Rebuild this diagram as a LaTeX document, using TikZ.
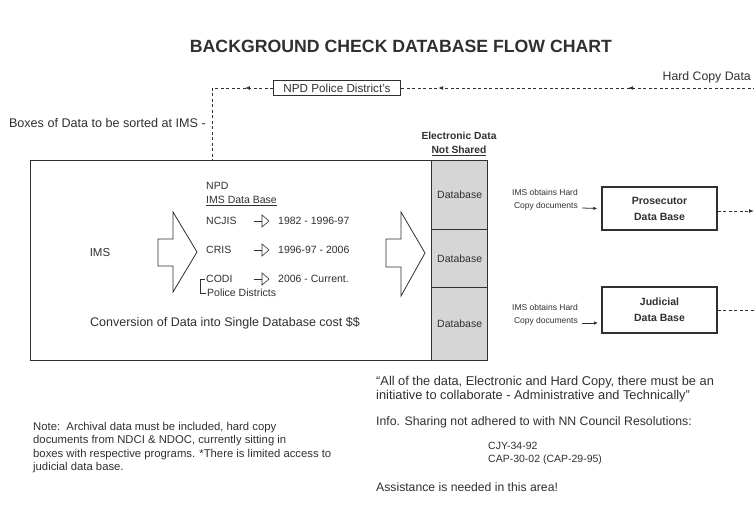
\documentclass[tikz,border=0pt]{standalone}
\usepackage{fontspec}
\setmainfont{Liberation Sans}
\usetikzlibrary{arrows.meta,decorations.markings}
\definecolor{ink}{HTML}{303030}
\definecolor{cellgray}{HTML}{D6D6D6}
\begin{document}
\begin{tikzpicture}[x=1pt,y=-1pt,
  every node/.style={inner sep=0pt, text=ink},
  mid/.style={font=\fontsize{10.5}{12}\selectfont},
  small/.style={font=\fontsize{8.5}{13}\selectfont},
  bld/.style={font=\bfseries\fontsize{10.5}{16}\selectfont},
  boxed/.style={draw=ink, line width=1.4pt, fill=white},
  cell/.style={draw=ink, line width=1.4pt, fill=cellgray, minimum width=56, font=\fontsize{10.5}{12}\selectfont},
  dline/.style={draw=ink, line width=0.9pt, dash pattern=on 3pt off 2.5pt},
  midleft/.style={postaction={decorate, decoration={markings, mark=at position #1 with {\arrow{Latex[length=5pt,width=4pt]}}}}},
  hollow/.style={draw=ink, line width=0.8pt, fill=white},
]
\useasboundingbox (0,0) rectangle (754,518);

% title
\node[font=\bfseries\fontsize{17.7}{20}\selectfont] (title) at (401,46) {BACKGROUND CHECK DATABASE FLOW CHART};

% big box and database column
\node[boxed, minimum width=401, minimum height=200, anchor=north west] (big) at (30,160) {};
\node[cell, minimum height=69, anchor=north west] (db1) at (431,160) {Database};
\node[cell, minimum height=58, anchor=north west] (db2) at (431,229) {Database};
\node[cell, minimum height=73, anchor=north west] (db3) at (431,287) {Database};

\node[font=\bfseries\fontsize{10.3}{14}\selectfont, align=center] (elec) at (459,144) {Electronic Data\\\underline{Not Shared}};

% top dashed flow
\node[draw=ink, line width=0.9pt, minimum width=127, minimum height=15, font=\fontsize{11.7}{12}\selectfont] (npd) at (337,88) {NPD Police District's};
\coordinate (corner) at (212,88);
\coordinate (redge) at (756,88);
\draw[dline, midleft=0.36, midleft=0.895] (redge) -- (npd.east);
\draw[dline, midleft=0.46] (npd.west) -- (corner);
\draw[dline] (corner) -- (corner |- big.north);
\node[font=\fontsize{12.3}{13}\selectfont, anchor=east] (hard) at (751,77) {Hard Copy Data};
\node[font=\fontsize{12.6}{13}\selectfont, anchor=east] (boxes) at (206,123) {Boxes of Data to be sorted at IMS -};

% inside big box
\node[font=\fontsize{11.5}{13}\selectfont] (ims) at (100,253) {IMS};
\draw[hollow] (158,239) -- (173,239) -- (173,212) -- (197,252) -- (173,292) -- (173,266) -- (158,266) -- cycle;
\draw[hollow] (386,239) -- (401,239) -- (401,212) -- (425,253) -- (401,296) -- (401,267) -- (386,267) -- cycle;

\node[mid, anchor=west] (npdl) at (206,186) {NPD};
\node[mid, anchor=west] (imsdb) at (206,201) {\underline{IMS Data Base}};
\node[mid, anchor=west] (ncjis) at (206,221) {NCJIS};
\node[mid, anchor=west] (cris) at (206,250) {CRIS};
\node[mid, anchor=west] (codi) at (206,279) {CODI};
\node[mid, anchor=west] (pold) at (207,293) {Police Districts};
\draw[ink, line width=0.6pt] (codi.west) ++(-1,0) -- ++(-5,0) |- ([xshift=-1pt]pold.west);
\foreach \yy/\nm/\lab in {221/r1/{1982 - 1996-97}, 250/r2/{1996-97 - 2006}, 279/r3/{2006 - Current.}} {
  \draw[ink, line width=0.6pt] (254,\yy) -- (262,\yy);
  \draw[ink, line width=0.6pt] (262,\yy-6) -- (269,\yy) -- (262,\yy+6) -- cycle;
  \node[mid, anchor=west] (\nm) at (278,\yy) {\lab};
}
\node[font=\fontsize{12.5}{13}\selectfont, anchor=west] (conv) at (90,323) {Conversion of Data into Single Database cost \$\$};

% right side
\node[boxed, minimum width=115, minimum height=43, align=center, bld] (pros) at (659.5,208.5) {Prosecutor\\Data Base};
\node[boxed, minimum width=115, minimum height=46, align=center, bld] (jud) at (659.5,310) {Judicial\\Data Base};
\node[small, align=right, anchor=north east] (ims1) at (578,189) {IMS obtains Hard\\Copy documents};
\node[small, align=right, anchor=north east] (ims2) at (578,304) {IMS obtains Hard\\Copy documents};
\coordinate (a1) at (582,208);
\coordinate (a2) at (582,323);
\coordinate (b2) at (598,323);
\draw[ink, line width=0.8pt, -{Latex[length=4pt,width=3.5pt]}] (a1) -- ([xshift=-4pt]pros.west);
\draw[ink, line width=0.8pt, -{Latex[length=4pt,width=3.5pt]}] (a2) -- (b2);
\coordinate (pe) at (754,211);
\coordinate (je) at (754,310);
\draw[dline, -{Latex[length=5pt,width=4pt]}] (pros.east |- pe) -- (pe);
\draw[dline] (jud.east |- je) -- (je);

% notes
\node[align=left, anchor=north west, font=\fontsize{11.3}{13.5}\selectfont] (note) at (33,422) {Note:\ \ Archival data must be included, hard copy\\documents from NDCI \& NDOC, currently sitting in\\boxes with respective programs. *There is limited access to\\judicial data base.};
\node[align=left, anchor=north west, font=\fontsize{12.8}{14}\selectfont] (quote) at (376,376) {``All of the data, Electronic and Hard Copy, there must be an\\initiative to collaborate - Administrative and Technically''};
\node[font=\fontsize{12.3}{14}\selectfont, anchor=west] (info) at (376,422) {Info. Sharing not adhered to with NN Council Resolutions:};
\node[align=left, anchor=north west, font=\fontsize{10.5}{12.5}\selectfont] (res) at (488,442) {CJY-34-92\\CAP-30-02 (CAP-29-95)};
\node[font=\fontsize{12.2}{13}\selectfont, anchor=west] (assist) at (376,487) {Assistance is needed in this area!};
\end{tikzpicture}
\end{document}
